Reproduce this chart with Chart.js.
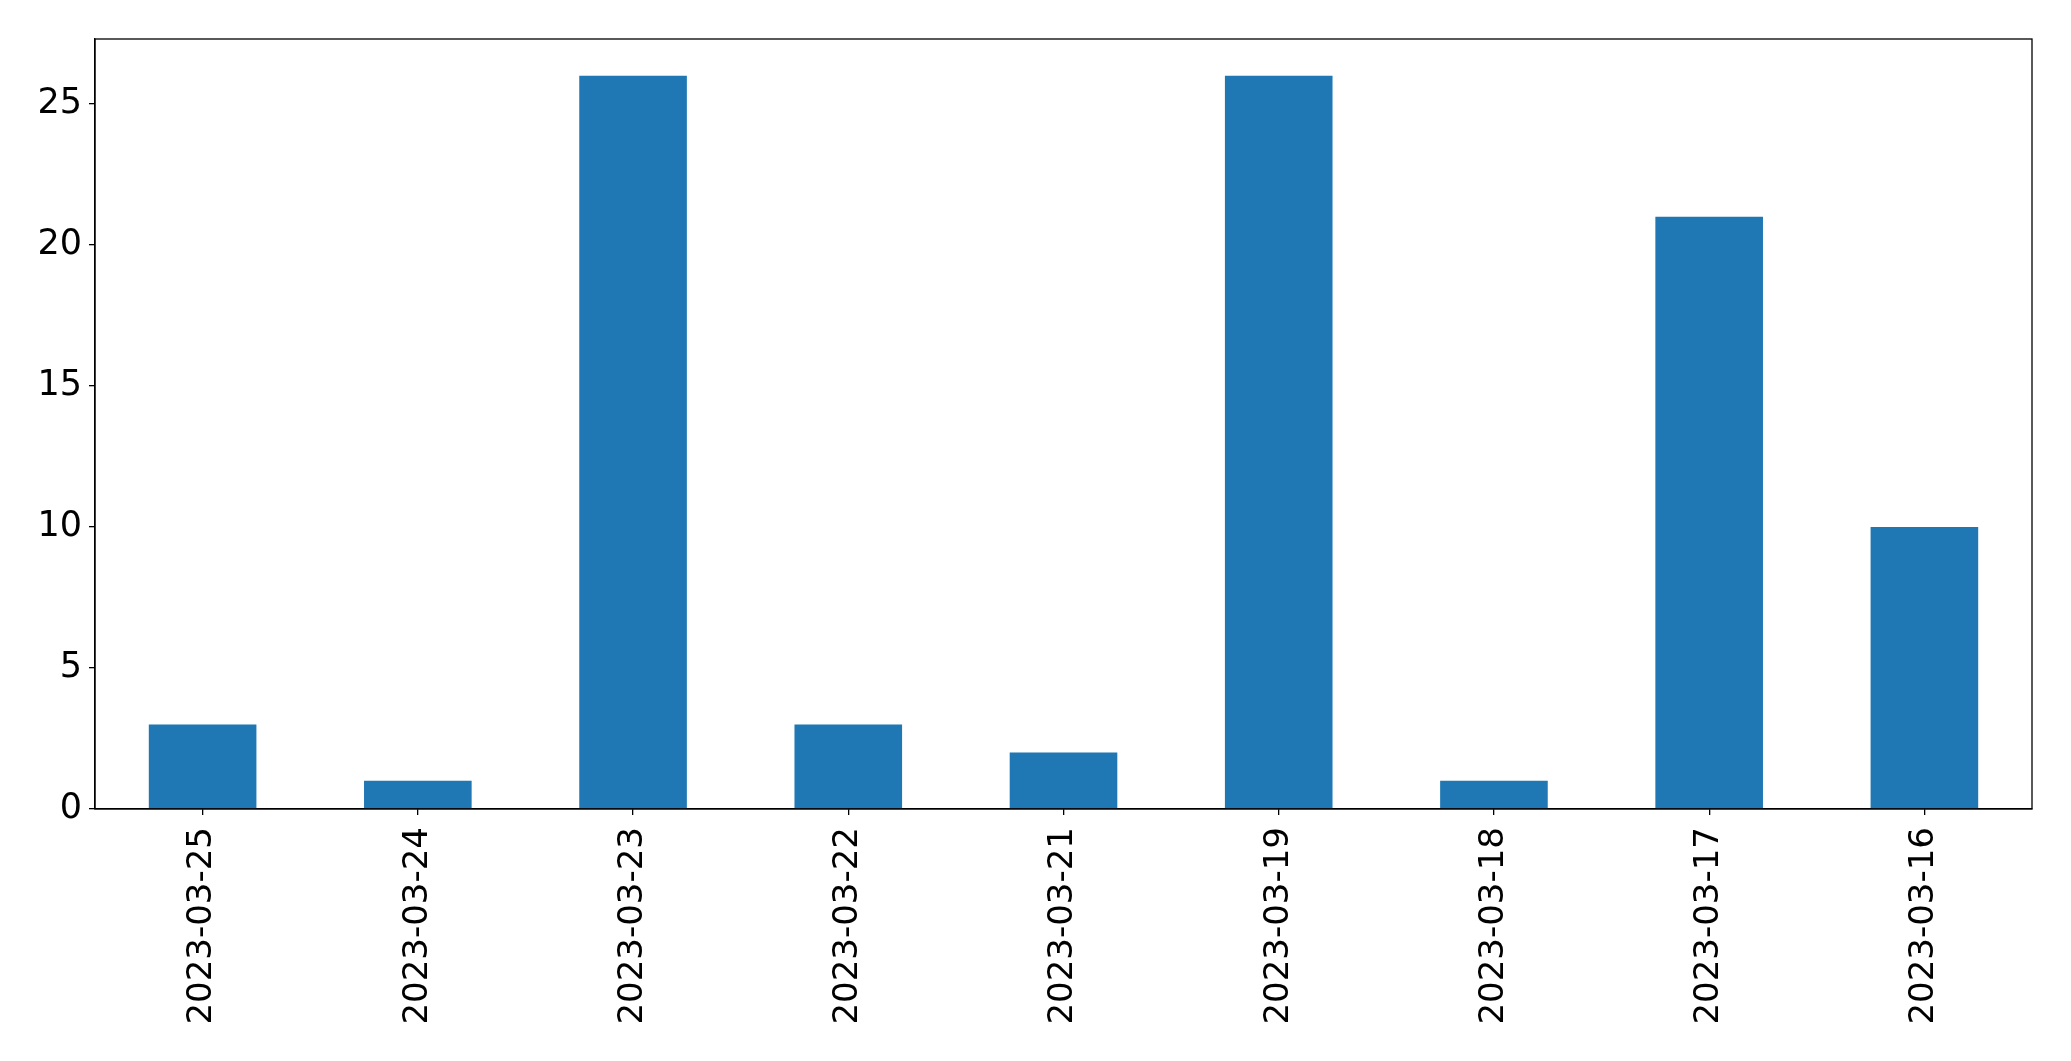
<!DOCTYPE html>
<html>
<head>
<meta charset="utf-8">
<script src="https://cdn.jsdelivr.net/npm/chart.js@4/dist/chart.umd.min.js"></script>
<style>
html,body{margin:0;padding:0;background:#fff;}
#wrap{width:2071px;height:1061px;position:relative;}
</style>
</head>
<body>
<div id="wrap"><canvas id="c" width="2071" height="1061"></canvas></div>
<script>
const categories = ["2023-03-25","2023-03-24","2023-03-23","2023-03-22","2023-03-21","2023-03-19","2023-03-18","2023-03-17","2023-03-16"];
const values = [3, 1, 26, 3, 2, 26, 1, 21, 10];
const yTicks = [0, 5, 10, 15, 20, 25];
const yMax = 27.3;

const frame = {
  id: 'frame',
  afterDraw(chart) {
    const {ctx, chartArea: a} = chart;
    ctx.save();
    ctx.strokeStyle = '#000';
    ctx.lineWidth = 1.3;
    ctx.strokeRect(a.left, a.top, a.right - a.left, a.bottom - a.top);
    ctx.restore();
  }
};

new Chart(document.getElementById('c'), {
  type: 'bar',
  data: {
    labels: categories,
    datasets: [{
      data: values,
      backgroundColor: '#1f77b4',
      borderWidth: 0,
      barPercentage: 0.5,
      categoryPercentage: 1.0
    }]
  },
  options: {
    responsive: false,
    animation: false,
    devicePixelRatio: 1,
    layout: { padding: { top: 39, right: 39, left: 0, bottom: 0 } },
    plugins: { legend: { display: false }, tooltip: { enabled: false } },
    scales: {
      x: {
        offset: true,
        afterFit(s) { s.height = 252; },
        grid: { drawOnChartArea: false, drawTicks: true, tickLength: 6, color: '#000', lineWidth: 1.3, offset: false },
        border: { display: true, color: '#000', width: 1.3 },
        ticks: {
          minRotation: 90, maxRotation: 90, autoSkip: false,
          color: '#000', padding: 12,
          font: { family: 'DejaVu Sans', size: 34 }
        }
      },
      y: {
        min: 0, max: yMax,
        afterFit(s) { s.width = 95; },
        afterBuildTicks(s) { s.ticks = yTicks.map(v => ({ value: v })); },
        grid: { drawOnChartArea: false, drawTicks: true, tickLength: 6, color: '#000', lineWidth: 1.3 },
        border: { display: true, color: '#000', width: 1.3 },
        ticks: {
          color: '#000', padding: 7,
          font: { family: 'DejaVu Sans', size: 35 }
        }
      }
    }
  },
  plugins: [frame]
});
</script>
</body>
</html>
